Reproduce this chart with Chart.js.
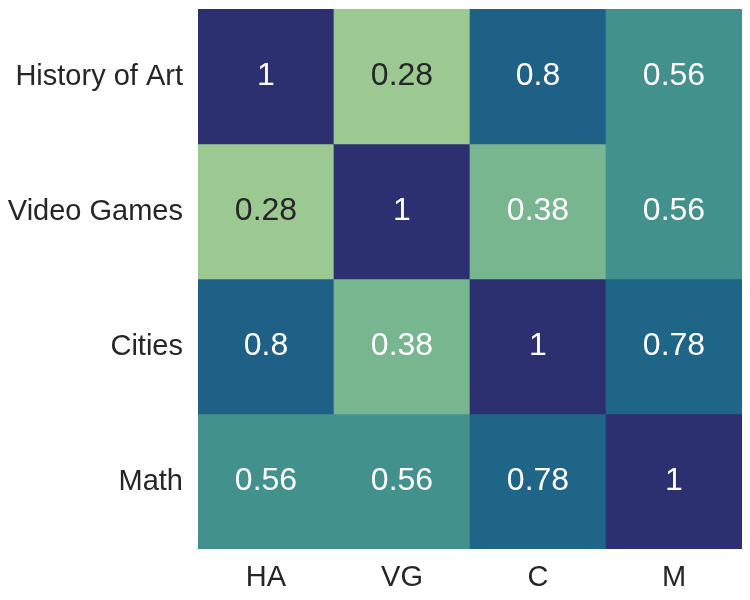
<html>
    <head>
        <title>heatmap</title>
        <script src="https://cdn.jsdelivr.net/npm/chart.js@4/dist/chart.umd.min.js"></script>
        <style>
            body { margin: 0; background: #fff; }
            #box { width: 750px; height: 600px; }
        </style>
    </head>
    <body>
        <div id="box"><canvas id="heat"></canvas></div>
        <script>
            const colLabels = ['HA', 'VG', 'C', 'M']
            const rowLabels = ['History of Art', 'Video Games', 'Cities', 'Math']
            const rowHistoryOfArt = [1, 0.28, 0.8, 0.56]
            const rowVideoGames = [0.28, 1, 0.38, 0.56]
            const rowCities = [0.8, 0.38, 1, 0.78]
            const rowMath = [0.56, 0.56, 0.78, 1]
            const rows = [rowHistoryOfArt, rowVideoGames, rowCities, rowMath]

            // crest-like colour ramp, t from 0 (min) to 1 (max)
            const ramp = [
                [0.0, [156, 201, 146]],
                [0.14, [120, 182, 144]],
                [0.39, [67, 145, 141]],
                [0.69, [31, 102, 135]],
                [0.72, [31, 97, 134]],
                [1.0, [45, 48, 112]]
            ]
            const vmin = 0.28, vmax = 1
            const fontFamily = '"Liberation Sans", Arial, sans-serif'

            function colourFor(v) {
                const t = (v - vmin) / (vmax - vmin)
                for (let i = 1; i < ramp.length; i++) {
                    if (t <= ramp[i][0]) {
                        const a = ramp[i - 1], b = ramp[i]
                        const f = (t - a[0]) / (b[0] - a[0])
                        const c = a[1].map((x, k) => Math.round(x + (b[1][k] - x) * f))
                        return `rgb(${c[0]},${c[1]},${c[2]})`
                    }
                }
                const c = ramp[ramp.length - 1][1]
                return `rgb(${c[0]},${c[1]},${c[2]})`
            }

            const datasets = rows.map((vals, r) => ({
                label: rowLabels[r],
                data: vals.map(() => [r, r + 1]),
                values: vals,
                backgroundColor: vals.map(colourFor),
                borderWidth: 0,
                barPercentage: 1,
                categoryPercentage: 1,
                grouped: false
            }))

            const cellText = {
                id: 'cellText',
                afterDatasetsDraw(chart) {
                    const c = chart.ctx
                    c.save()
                    c.font = '32px ' + fontFamily
                    c.textAlign = 'center'
                    c.textBaseline = 'middle'
                    chart.data.datasets.forEach((ds, r) => {
                        chart.getDatasetMeta(r).data.forEach((bar, i) => {
                            const v = ds.values[i]
                            const p = bar.getProps(['x', 'y', 'base'], true)
                            c.fillStyle = v < 0.33 ? '#262626' : '#ffffff'
                            c.fillText(String(v), p.x, (p.y + p.base) / 2)
                        })
                    })
                    c.restore()
                }
            }

            new Chart(document.getElementById('heat'), {
                type: 'bar',
                data: { labels: colLabels, datasets: datasets },
                plugins: [cellText],
                options: {
                    responsive: true,
                    maintainAspectRatio: false,
                    animation: false,
                    layout: { padding: { top: 9, right: 8, left: 0, bottom: 0 } },
                    plugins: { legend: { display: false }, tooltip: { enabled: false } },
                    scales: {
                        x: {
                            grid: { display: false },
                            border: { display: false },
                            ticks: {
                                color: '#262626',
                                padding: 4,
                                font: { size: 29, family: fontFamily }
                            },
                            afterFit: (s) => { s.height = 51; s.paddingLeft = 0; s.paddingRight = 0 }
                        },
                        y: {
                            type: 'linear',
                            min: 0,
                            max: 4,
                            reverse: true,
                            grid: { display: false },
                            border: { display: false },
                            afterBuildTicks: (s) => { s.ticks = [0.5, 1.5, 2.5, 3.5].map(v => ({ value: v })) },
                            afterFit: (s) => { s.width = 198; s.paddingTop = 0; s.paddingBottom = 0 },
                            ticks: {
                                color: '#262626',
                                padding: 7,
                                autoSkip: false,
                                font: { size: 29, family: fontFamily },
                                callback: (v) => rowLabels[Math.floor(v)]
                            }
                        }
                    }
                }
            })
        </script>
    </body>
</html>
